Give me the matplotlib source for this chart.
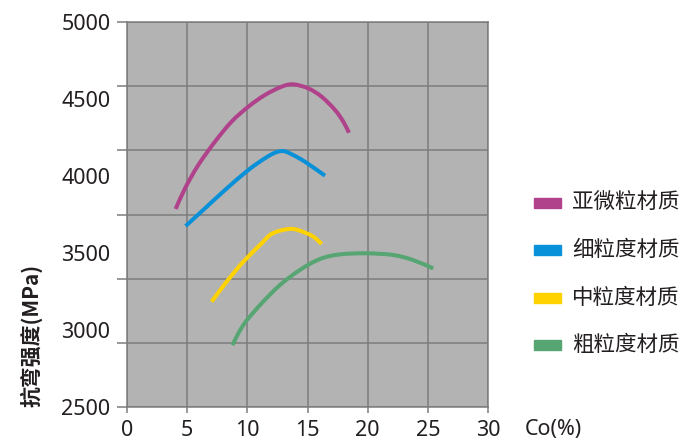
import numpy as np
import matplotlib.pyplot as plt
from matplotlib.patches import Rectangle, PathPatch
from matplotlib.path import Path

sub_x = [4.04, 4.82, 5.92, 7.31, 8.69, 10.08, 11.46, 12.85, 13.81, 15.06, 16.17, 17.28, 17.97, 18.44]
sub_y = [3786, 3920, 4071, 4223, 4353, 4450, 4526, 4580, 4595, 4569, 4515, 4429, 4353, 4281]

fine_x = [4.87, 6.48, 8.14, 10.08, 11.46, 12.29, 12.98, 13.68, 14.78, 16.45]
fine_y = [3675, 3790, 3909, 4039, 4115, 4151, 4162, 4141, 4093, 4002]

mid_x = [7.03, 8.28, 9.66, 11.19, 11.88, 12.71, 13.81, 14.93, 15.61, 16.17]
mid_y = [3184, 3314, 3443, 3563, 3617, 3645, 3656, 3628, 3599, 3558]

coarse_x = [8.75, 9.66, 11.05, 12.71, 14.37, 16.03, 17.69, 19.91, 22.12, 23.78, 25.44]
coarse_y = [2902, 3032, 3162, 3292, 3390, 3461, 3491, 3498, 3487, 3454, 3400]

series = [
    ('亚微粒材质', sub_x, sub_y, '#b0428b'),
    ('细粒度材质', fine_x, fine_y, '#0891d8'),
    ('中粒度材质', mid_x, mid_y, '#ffd200'),
    ('粗粒度材质', coarse_x, coarse_y, '#56a572'),
]

x_ticks = [0, 5, 10, 15, 20, 25, 30]
y_labels = [2500, 3000, 3500, 4000, 4500, 5000]

grid_c = '#7d7d7d'
text_c = '#231f20'
plt.rcParams['font.family'] = ['Noto Sans', 'Noto Sans CJK SC', 'DejaVu Sans']


def smooth_path(xs, ys):
    # smoothed line through the points (catmull-rom as bezier segments)
    p = np.column_stack([xs, ys]).astype(float)
    ext = np.vstack([p[0], p, p[-1]])
    verts = [p[0]]
    codes = [Path.MOVETO]
    for i in range(len(p) - 1):
        p0, p1, p2, p3 = ext[i], ext[i + 1], ext[i + 2], ext[i + 3]
        verts += [p1 + (p2 - p0) / 6, p2 - (p3 - p1) / 6, p2]
        codes += [Path.CURVE4] * 3
    return Path(verts, codes)


def main():
    fig = plt.figure(figsize=(6.87, 4.46), dpi=100)
    ax = fig.add_axes([0.1849, 0.0874, 0.5255, 0.8633])
    ax.set_facecolor('#b3b3b3')
    ax.set_xlim(0, 30)
    ax.set_ylim(2500, 5000)

    for name, xs, ys, c in series:
        ax.add_patch(PathPatch(smooth_path(xs, ys), fill=False, edgecolor=c, lw=2.9,
                               capstyle='butt', joinstyle='round', zorder=3))

    # grid has 6 rows while the labels step by 500
    ax.set_xticks(x_ticks)
    ax.set_yticks(np.linspace(2500, 5000, 7))
    ax.set_yticklabels([])
    ax.yaxis.remove_overlapping_locs = False
    ax.set_yticks(y_labels, minor=True)
    ax.set_yticklabels([str(v) for v in y_labels], minor=True)
    ax.grid(True, which='major', color=grid_c, lw=1.1, zorder=1)
    ax.set_axisbelow(True)

    ax.tick_params(axis='y', which='major', length=7.5, width=1.1, color=grid_c)
    ax.tick_params(axis='y', which='minor', length=0, pad=12, labelsize=15.5, labelcolor=text_c)
    ax.tick_params(axis='x', which='major', length=4.5, width=1.1, color=grid_c,
                   labelsize=15.5, labelcolor=text_c, pad=5)
    for s in ax.spines.values():
        s.set_color(grid_c)
        s.set_linewidth(1.1)

    fig.text(0.805, 0.036, 'Co(%)', fontsize=15.5, color=text_c, ha='center', va='center')
    fig.text(0.045, 0.247, '抗弯强度(MPa)', fontsize=15, fontweight='bold', color=text_c,
             rotation=90, ha='center', va='center', family=['Noto Sans CJK SC', 'DejaVu Sans'])

    # legend drawn by hand on the right
    for i, (name, xs, ys, c) in enumerate(series):
        yc = 1 - (202.7 + i * 47.5) / 446
        fig.patches.append(Rectangle((534 / 687, yc - 5 / 446), 27 / 687, 10 / 446,
                                     transform=fig.transFigure, color=c))
        fig.text(572 / 687, yc, name, fontsize=15.5, color=text_c, va='center', ha='left',
                 family=['Noto Sans CJK SC', 'DejaVu Sans'])

    fig.savefig('out.png', dpi=100)


if __name__ == '__main__':
    main()
